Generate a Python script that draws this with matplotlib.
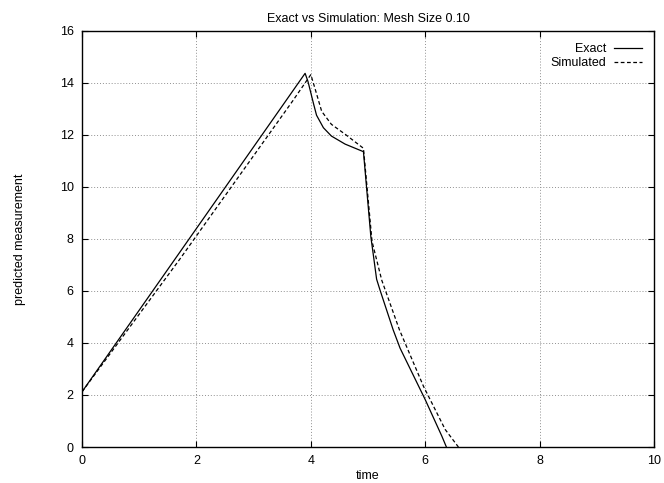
import matplotlib
matplotlib.use("Agg")
from matplotlib import pyplot as plt

plt.rcParams['font.family'] = ['Liberation Sans', 'DejaVu Sans']

# exact solution
exact_t = [0.0, 3.90, 3.95, 3.99, 4.05, 4.10, 4.22, 4.36, 4.60, 4.92, 5.05, 5.09,
           5.15, 5.21, 5.44, 5.56, 6.00, 6.29, 6.37]
exact_y = [2.12, 14.36, 14.05, 13.70, 13.17, 12.75, 12.27, 11.95, 11.64, 11.35, 8.07, 7.43,
           6.45, 6.03, 4.50, 3.80, 1.82, 0.42, 0.0]

# simulated, mesh size 0.10
sim_t = [0.0, 1.71, 3.68, 4.00, 4.07, 4.19, 4.36, 4.60, 4.92, 5.07, 5.24,
         5.55, 5.97, 6.35, 6.58]
sim_y = [2.12, 7.22, 13.29, 14.31, 13.80, 12.90, 12.40, 12.02, 11.48, 7.90, 6.41,
         4.50, 2.33, 0.67, 0.0]

fig = plt.figure(figsize=(6.64, 4.83), dpi=100)
ax = fig.add_axes([0.1235, 0.0745, 0.8615, 0.8620])

ax.plot(exact_t, exact_y, color='black', lw=0.9, label='Exact')
ax.plot(sim_t, sim_y, color='black', lw=0.9, ls=(0, (3, 2)), label='Simulated')

ax.set_xlim(0, 10)
ax.set_ylim(0, 16)
ax.set_xticks(range(0, 11, 2))
ax.set_yticks(range(0, 17, 2))
ax.grid(True, color='#909090', ls=(0, (1, 2)), lw=0.7)
ax.tick_params(direction='in', length=4, width=0.8, labelsize=9,
               top=True, right=True, pad=6)
for s in ax.spines.values():
    s.set_linewidth(1.0)

ax.set_title('Exact vs Simulation: Mesh Size 0.10', fontsize=9, pad=6)
ax.set_xlabel('time', fontsize=9, labelpad=2)
ax.set_ylabel('predicted measurement', fontsize=9, labelpad=24)

leg = ax.legend(loc='upper right', frameon=False, markerfirst=False,
                fontsize=9, handlelength=2.2, handletextpad=0.6,
                labelspacing=0.15, borderaxespad=0.6)
for t in leg.get_texts():
    t.set_ha('right')
leg._legend_box.align = 'right'

fig.savefig('out.png', dpi=100)
